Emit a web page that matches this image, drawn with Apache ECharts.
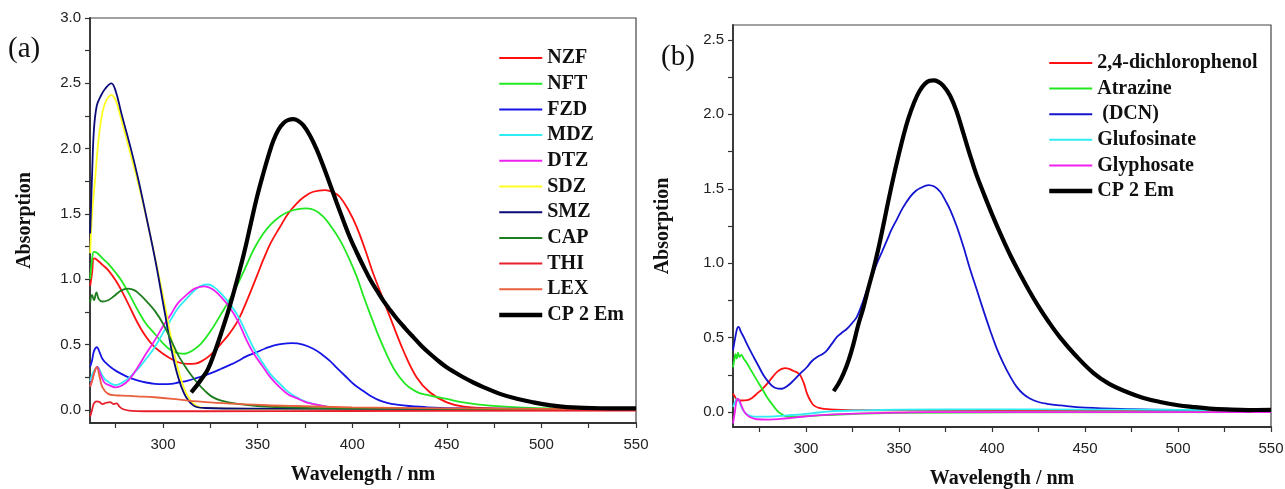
<!DOCTYPE html>
<html>
<head>
<meta charset="utf-8">
<script src="https://cdn.jsdelivr.net/npm/echarts@6/dist/echarts.min.js"></script>
<style>
html,body{margin:0;padding:0;background:#fff;}
#chart{width:1285px;height:489px;}
</style>
</head>
<body>
<div id="chart"></div>
<script>
// ---------- Tick values ----------
const xTicks = [275, 300, 325, 350, 375, 400, 425, 450, 475, 500, 525, 550];
const xLabels = [300, 350, 400, 450, 500, 550];
const yTicksA = [0, 0.25, 0.5, 0.75, 1.0, 1.25, 1.5, 1.75, 2.0, 2.25, 2.5, 2.75, 3.0];
const yLabelsA = [0, 0.5, 1.0, 1.5, 2.0, 2.5, 3.0];
const yTicksB = [0, 0.25, 0.5, 0.75, 1.0, 1.25, 1.5, 1.75, 2.0, 2.25, 2.5];
const yLabelsB = [0, 0.5, 1.0, 1.5, 2.0, 2.5];

// ---------- Panel (a) data: [wavelength nm, absorption] ----------
const NZF = [[261.5,0.95],[262.5,1.05],[263.5,1.16],[265,1.15],[268,1.11],[271,1.07],[275,0.99],[278,0.915],[282,0.8],[286.8,0.66],[291,0.56],[295.6,0.48],[300,0.43],[304.4,0.39],[308,0.365],[313,0.353],[317,0.355],[320,0.37],[325,0.42],[330.8,0.51],[335.4,0.59],[340,0.695],[345,0.86],[350,1.04],[353,1.15],[357,1.28],[361.8,1.40],[366,1.50],[370.6,1.58],[375,1.635],[379.4,1.67],[385.6,1.683],[390,1.665],[393.5,1.63],[398,1.53],[402.4,1.40],[407,1.22],[411.2,1.04],[415.5,0.88],[420,0.71],[427,0.455],[434,0.25],[441,0.135],[450,0.058],[459,0.025],[475,0.012],[500,0.008],[550,0.005]];
const NFT = [[261.5,1.0],[262.5,1.15],[263.5,1.21],[265.3,1.20],[268,1.16],[271,1.12],[275,1.05],[278,0.99],[282,0.89],[286.8,0.76],[291,0.66],[295.6,0.583],[300,0.51],[304.4,0.455],[308,0.435],[311.5,0.43],[315,0.45],[320,0.506],[325,0.6],[330.8,0.737],[335.4,0.85],[339.6,0.967],[344.2,1.11],[348,1.23],[353,1.35],[357,1.42],[361.8,1.48],[366,1.515],[370.6,1.535],[375.9,1.543],[380,1.53],[384.7,1.48],[389,1.40],[393.5,1.30],[398,1.17],[402.4,1.02],[406,0.87],[409.4,0.737],[413,0.6],[416.5,0.48],[420,0.37],[423.5,0.28],[428,0.2],[432.3,0.152],[436,0.127],[441.1,0.11],[449.9,0.084],[458.7,0.058],[472.8,0.033],[490,0.018],[510,0.012],[550,0.008]];
const FZD = [[261.5,0.33],[262.5,0.38],[263.5,0.45],[265,0.48],[266.5,0.44],[268,0.39],[270.3,0.353],[274,0.31],[278,0.276],[282,0.248],[286.8,0.225],[291,0.21],[295.6,0.2],[300,0.197],[304.4,0.2],[308,0.21],[313.2,0.225],[318,0.245],[322,0.263],[326,0.285],[330.8,0.315],[335.4,0.345],[339.6,0.375],[344,0.41],[349.5,0.442],[354,0.47],[358.3,0.493],[363,0.506],[368,0.511],[374,0.5],[379.4,0.468],[384,0.425],[388.2,0.375],[392,0.32],[397,0.25],[401,0.195],[405.9,0.145],[410,0.105],[414.7,0.071],[419,0.052],[423.5,0.041],[430,0.03],[440,0.02],[460,0.012],[500,0.008],[550,0.005]];
const MDZ = [[261.5,0.22],[262.5,0.27],[264,0.31],[265.4,0.33],[267,0.29],[269,0.24],[271.4,0.212],[274.9,0.19],[278,0.205],[282,0.245],[286.8,0.315],[291,0.39],[295.6,0.48],[300,0.59],[304.4,0.698],[308,0.78],[313.2,0.864],[317,0.92],[320,0.95],[323.8,0.96],[327,0.94],[330.8,0.89],[335.4,0.81],[339.6,0.72],[344.2,0.583],[348,0.47],[353,0.353],[357,0.27],[361.8,0.2],[366,0.14],[370.6,0.097],[375,0.065],[379.4,0.046],[388.2,0.022],[400,0.012],[450,0.008],[550,0.005]];
const DTZ = [[261.5,0.18],[262.5,0.23],[264,0.3],[265.2,0.33],[267,0.27],[269,0.21],[271.4,0.19],[274.9,0.173],[278,0.185],[282,0.23],[286.8,0.33],[291,0.43],[295.6,0.532],[300,0.64],[304.4,0.737],[308,0.82],[313.2,0.89],[317,0.93],[322,0.946],[326,0.925],[330.8,0.864],[335.4,0.78],[339.6,0.68],[344.2,0.532],[348,0.43],[353,0.327],[357,0.245],[361.8,0.173],[366,0.12],[370.6,0.09],[375,0.062],[379.4,0.046],[388,0.022],[400,0.012],[450,0.008],[550,0.005]];
const SDZ = [[261.5,1.2],[262.5,1.5],[264,1.75],[266,2.08],[268,2.28],[270,2.37],[272.7,2.41],[275,2.37],[278,2.22],[283,1.95],[288,1.67],[292,1.42],[296,1.15],[301,0.8],[306,0.43],[311,0.17],[316,0.05],[322,0.015],[350,0.008],[550,0.005]];
const SMZ = [[261.5,1.35],[262.5,1.8],[263.5,2.15],[265,2.33],[267,2.4],[269.5,2.46],[272.7,2.5],[275,2.44],[278,2.27],[283,2.0],[287,1.76],[291,1.49],[296,1.14],[301,0.74],[306,0.36],[311,0.13],[316,0.035],[322,0.015],[350,0.01],[550,0.005]];
const CAP = [[261.5,0.82],[262.5,0.88],[263.5,0.84],[264.8,0.9],[266,0.85],[268,0.83],[271,0.84],[274,0.87],[278,0.915],[281.5,0.928],[285,0.915],[288,0.88],[292,0.82],[295.6,0.76],[300,0.66],[304.4,0.53],[308,0.42],[313.2,0.30],[318,0.21],[322,0.148],[326,0.1],[330.8,0.071],[339.6,0.046],[350,0.03],[370,0.018],[400,0.012],[450,0.008],[550,0.005]];
const THI = [[261.5,-0.05],[262.5,0.0],[263.5,0.05],[265,0.065],[266.5,0.06],[268,0.045],[270,0.055],[272,0.06],[274,0.045],[275.5,0.05],[277,0.025],[279,0.005],[282,-0.005],[290,-0.01],[320,-0.01],[400,-0.008],[550,-0.005]];
const LEX = [[261.5,0.18],[262.5,0.22],[264,0.3],[265,0.327],[266.5,0.25],[268,0.173],[271,0.123],[275,0.112],[278,0.11],[286,0.104],[295.6,0.097],[305,0.085],[313.2,0.071],[325,0.058],[339.6,0.046],[355,0.036],[370,0.03],[400,0.02],[450,0.012],[500,0.008],[550,0.005]];
const CP2EM_A = [[314.9,0.135],[318,0.19],[321,0.25],[323.7,0.31],[327,0.43],[330.8,0.59],[335.4,0.8],[340,1.04],[343,1.21],[346,1.40],[349.5,1.62],[353,1.81],[356,1.96],[358.3,2.06],[361,2.145],[363.6,2.195],[366,2.218],[368.9,2.226],[371.5,2.212],[374.1,2.18],[377.5,2.105],[381.2,1.995],[384.5,1.875],[388.2,1.73],[391.7,1.59],[395.3,1.45],[398.8,1.32],[402.4,1.205],[405.9,1.10],[409.4,1.0],[413,0.915],[416.5,0.835],[420,0.765],[423.5,0.70],[428,0.625],[432.3,0.557],[436.5,0.492],[441.1,0.43],[446.4,0.365],[449.9,0.327],[454,0.29],[458.7,0.25],[464,0.21],[469.3,0.175],[478.1,0.123],[487,0.085],[495.7,0.058],[505,0.035],[513.3,0.022],[531,0.013],[550,0.012]];

// ---------- Panel (b) data ----------
const DCP = [[260.8,0.124],[262,0.1],[263,0.08],[265,0.078],[268.4,0.08],[271,0.095],[273.7,0.124],[276.5,0.155],[279.1,0.19],[282,0.235],[284.5,0.27],[287,0.29],[289,0.296],[291,0.29],[293.4,0.276],[295.5,0.265],[297,0.247],[299,0.19],[300.6,0.124],[302.5,0.075],[304.2,0.045],[307,0.028],[309.6,0.022],[320,0.015],[350,0.012],[450,0.01],[550,0.008]];
const ATR = [[260.8,0.3],[261.5,0.35],[262.1,0.39],[262.8,0.36],[263.5,0.4],[264.3,0.37],[265.2,0.385],[266.5,0.36],[268.4,0.326],[271,0.27],[273.7,0.213],[276.5,0.155],[279.1,0.1],[282,0.05],[284.5,0.01],[287,-0.015],[290,-0.03],[295,-0.03],[310,-0.02],[350,-0.005],[550,0.0]];
const DCN = [[260.8,0.415],[262,0.5],[263,0.56],[263.8,0.572],[265,0.54],[266.5,0.505],[269,0.44],[271.9,0.37],[274.5,0.31],[277.2,0.247],[280,0.2],[282.6,0.168],[285,0.158],[287.1,0.157],[290,0.175],[293.4,0.213],[297,0.26],[300.6,0.303],[303,0.34],[306,0.37],[309,0.39],[311.3,0.415],[314,0.46],[316.7,0.505],[319,0.53],[322.1,0.56],[325,0.6],[327.4,0.64],[330,0.72],[332.8,0.82],[335.5,0.91],[338.2,1.0],[341,1.08],[343.6,1.155],[346,1.225],[348.9,1.295],[352,1.37],[356.1,1.447],[359,1.485],[361.5,1.505],[365.9,1.525],[369,1.515],[372.2,1.48],[375,1.42],[377.6,1.357],[381,1.25],[384.7,1.11],[388,0.97],[391.9,0.82],[395.5,0.68],[399,0.55],[402.5,0.43],[406.2,0.326],[410,0.235],[413.4,0.168],[417,0.12],[420.6,0.09],[425,0.068],[429.5,0.056],[436.7,0.045],[450,0.03],[475,0.02],[500,0.015],[550,0.01]];
const GLU = [[260.8,0.035],[262,0.07],[263,0.09],[264,0.075],[265.5,0.03],[267,0.0],[269,-0.02],[272,-0.03],[280,-0.03],[290,-0.022],[300,-0.012],[313,0.005],[330,0.012],[350,0.016],[400,0.018],[450,0.017],[500,0.015],[550,0.012]];
const GLY = [[260.8,-0.076],[261.8,0.0],[262.6,0.07],[263.4,0.09],[264.5,0.07],[266.5,0.01],[268,-0.015],[270,-0.034],[273.7,-0.048],[280,-0.05],[286.2,-0.046],[295,-0.035],[304.2,-0.024],[315,-0.015],[331,-0.008],[350,-0.004],[366.8,0.0],[450,0.0],[550,0.0]];
const CP2EM_B = [[314.9,0.141],[317.5,0.19],[320.2,0.258],[323,0.35],[325.6,0.46],[328,0.58],[331,0.707],[333.5,0.83],[336.3,0.96],[339,1.1],[341.7,1.26],[344.5,1.43],[347.1,1.58],[350,1.735],[352.5,1.86],[355,1.97],[358,2.075],[361,2.155],[364,2.205],[366.5,2.225],[368.6,2.228],[371,2.22],[374,2.19],[377.5,2.125],[381,2.02],[384.7,1.87],[388,1.735],[391.5,1.6],[395.5,1.47],[400,1.33],[405,1.185],[410,1.05],[415,0.93],[420,0.815],[425,0.71],[430,0.615],[436.7,0.5],[445,0.38],[454.6,0.262],[463,0.19],[472.5,0.135],[481,0.097],[490.4,0.068],[500,0.046],[508.3,0.034],[517,0.024],[526.2,0.018],[538,0.014],[550,0.015]];

const namesA = ['NZF','NFT','FZD','MDZ','DTZ','SDZ','SMZ','CAP','THI','LEX','CP 2 Em'];
const dataA = [NZF, NFT, FZD, MDZ, DTZ, SDZ, SMZ, CAP, THI, LEX, CP2EM_A];
const colorsA = ['#ff1010','#22e822','#1414e6','#30ecf4','#f020f0','#ffff20','#0a0a78','#1e7e1e','#e8202c','#e8603c','#000000'];
const namesB = ['2,4-dichlorophenol','Atrazine',' (DCN)','Glufosinate','Glyphosate','CP 2 Em'];
const dataB = [DCP, ATR, DCN, GLU, GLY, CP2EM_B];
const colorsB = ['#ff1010','#22e822','#1414d0','#30ecf4','#f020f0','#000000'];

const serif = '"Liberation Serif", "DejaVu Serif", serif';
const sans = '"Liberation Sans", Arial, sans-serif';

function lw(n) { return n === 'CP 2 Em' ? 4.2 : 1.8; }

function mkSeries(names, datas, colors, gi) {
  return names.map((n, i) => ({
    type: 'line',
    name: n,
    xAxisIndex: gi, yAxisIndex: gi,
    data: datas[i],
    showSymbol: false, symbol: 'none',
    smooth: 0.4,
    clip: true,
    lineStyle: { color: colors[i], width: lw(n) },
    itemStyle: { color: colors[i] },
    z: n === 'CP 2 Em' ? 5 : 2,
    emphasis: { disabled: true }
  }));
}
function mkLegendData(names) {
  return names.map(n => ({ name: n, lineStyle: { width: n === 'CP 2 Em' ? 4.5 : 2 } }));
}

function mkX(gi) {
  return {
    type: 'value', gridIndex: gi,
    min: gi === 0 ? 261.4 : 260.8, max: 550,
    name: 'Wavelength / nm', nameLocation: 'middle', nameGap: 42,
    nameTextStyle: { fontFamily: serif, fontWeight: 'bold', fontSize: 20, color: '#111' },
    axisLine: { show: true, onZero: false, lineStyle: { color: '#333', width: 1.8 } },
    axisTick: { show: true, inside: false, length: 5, customValues: xTicks, lineStyle: { color: '#333', width: 1.2 } },
    axisLabel: { customValues: xLabels, fontFamily: sans, fontSize: 15, color: '#222', margin: 14 },
    splitLine: { show: false }
  };
}
function mkY(gi, max, ticks, labels, gap) {
  return {
    type: 'value', gridIndex: gi,
    min: -0.1, max: max,
    name: 'Absorption', nameLocation: 'middle', nameGap: gap, nameRotate: 90,
    nameTextStyle: { fontFamily: serif, fontWeight: 'bold', fontSize: 20, color: '#111' },
    axisLine: { show: true, onZero: false, lineStyle: { color: '#333', width: 1.8 } },
    axisTick: { show: true, inside: false, length: 5, customValues: ticks, lineStyle: { color: '#333', width: 1.2 } },
    axisLabel: { customValues: labels, fontFamily: sans, fontSize: 15, color: '#222', margin: 9,
      formatter: v => v.toFixed(1) },
    splitLine: { show: false }
  };
}

const legendText = { fontFamily: serif, fontWeight: 'bold', fontSize: 20, color: '#111', lineHeight: 20 };

const option = {
  animation: false,
  backgroundColor: '#fff',
  title: [
    { text: '(a)', left: 8, top: 35, padding: 0, textStyle: { fontFamily: serif, fontWeight: 'normal', fontSize: 29, color: '#111' } },
    { text: '(b)', left: 661, top: 43, padding: 0, textStyle: { fontFamily: serif, fontWeight: 'normal', fontSize: 29, color: '#111' } }
  ],
  grid: [
    { left: 90, top: 18, width: 546, height: 405, outerBoundsMode: 'none', containLabel: false,
      show: true, borderColor: '#444', borderWidth: 1.2, backgroundColor: 'transparent' },
    { left: 733, top: 25, width: 538, height: 402, outerBoundsMode: 'none', containLabel: false,
      show: true, borderColor: '#444', borderWidth: 1.2, backgroundColor: 'transparent' }
  ],
  legend: [
    { data: mkLegendData(namesA), orient: 'vertical', left: 497, top: 48, padding: 0, itemWidth: 43, itemHeight: 14, itemGap: 5.7,
      selectedMode: false, textStyle: legendText, itemStyle: { opacity: 0, borderWidth: 0 } },
    { data: mkLegendData(namesB), orient: 'vertical', left: 1047, top: 53, padding: 0, itemWidth: 43, itemHeight: 14, itemGap: 5.6,
      selectedMode: false, textStyle: legendText, itemStyle: { opacity: 0, borderWidth: 0 } }
  ],
  xAxis: [mkX(0), mkX(1)],
  yAxis: [mkY(0, 3.0, yTicksA, yLabelsA, 55), mkY(1, 2.6, yTicksB, yLabelsB, 60)],
  series: mkSeries(namesA, dataA, colorsA, 0).concat(mkSeries(namesB, dataB, colorsB, 1))
};

const chart = echarts.init(document.getElementById('chart'), null, { renderer: 'canvas' });
chart.setOption(option);
</script>
</body>
</html>
